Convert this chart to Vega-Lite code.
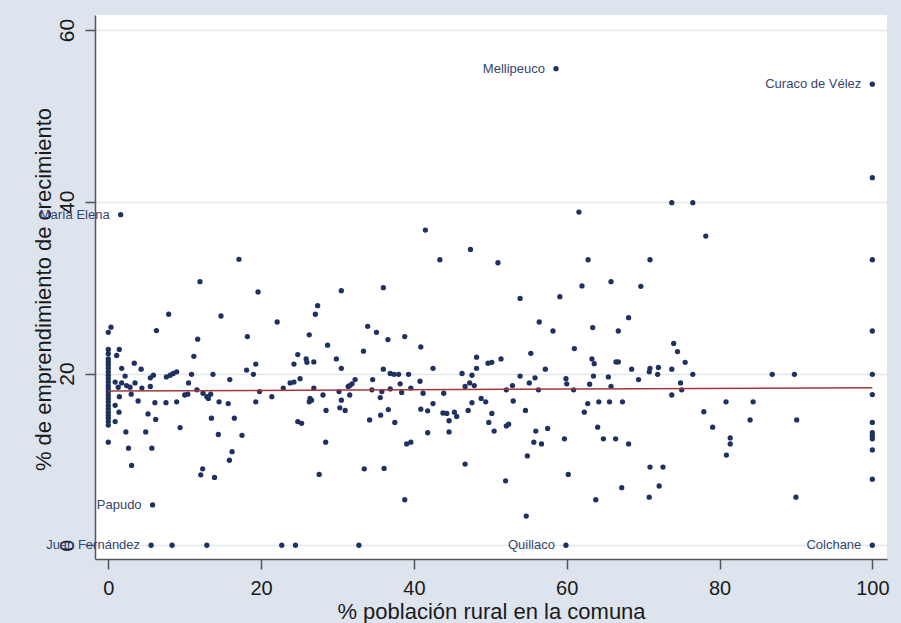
{
  "$schema": "https://vega.github.io/schema/vega-lite/v6.json",
  "width": 792,
  "height": 544,
  "autosize": {"type": "none"},
  "padding": {"left": 95, "top": 15, "right": 14, "bottom": 64},
  "background": "#dde4ee",
  "config": {"view": {"fill": "white", "stroke": null}, "font": "Liberation Sans"},
  "data": {"values": [
    {"x": 58.6, "y": 55.5, "label": "Mellipeuco"},
    {"x": 100, "y": 53.7, "label": "Curaco de Vélez"},
    {"x": 100, "y": 42.8},
    {"x": 1.62, "y": 38.5, "label": "María Elena"},
    {"x": 73.75, "y": 39.9}, {"x": 76.5, "y": 39.9}, {"x": 61.6, "y": 38.8}, {"x": 78.2, "y": 36.0},
    {"x": 41.5, "y": 36.7}, {"x": 47.4, "y": 34.45}, {"x": 43.4, "y": 33.25}, {"x": 17.1, "y": 33.3},
    {"x": 51.0, "y": 32.9}, {"x": 62.8, "y": 33.25}, {"x": 70.9, "y": 33.25}, {"x": 100, "y": 33.25},
    {"x": 12.0, "y": 30.7}, {"x": 19.6, "y": 29.5}, {"x": 36.0, "y": 30.0}, {"x": 30.5, "y": 29.65},
    {"x": 65.8, "y": 30.7}, {"x": 62.0, "y": 30.2}, {"x": 69.7, "y": 30.15}, {"x": 53.9, "y": 28.75},
    {"x": 59.1, "y": 28.95}, {"x": 27.4, "y": 27.9}, {"x": 27.1, "y": 26.9}, {"x": 7.9, "y": 26.9},
    {"x": 14.75, "y": 26.7}, {"x": 22.1, "y": 26.0}, {"x": 68.1, "y": 26.5}, {"x": 56.4, "y": 26.0},
    {"x": 33.95, "y": 25.5}, {"x": 35.1, "y": 24.8}, {"x": 26.3, "y": 24.5}, {"x": 58.2, "y": 24.95},
    {"x": 63.4, "y": 25.35}, {"x": 66.75, "y": 24.95}, {"x": 100, "y": 24.95}, {"x": 0.35, "y": 25.4},
    {"x": 0, "y": 24.8}, {"x": 6.3, "y": 25.0}, {"x": 18.2, "y": 24.3}, {"x": 11.7, "y": 24.0},
    {"x": 36.6, "y": 23.95}, {"x": 38.8, "y": 24.3}, {"x": 28.7, "y": 23.3}, {"x": 40.9, "y": 23.1},
    {"x": 74.0, "y": 23.5}, {"x": 33.4, "y": 22.6}, {"x": 61.0, "y": 22.9}, {"x": 74.5, "y": 22.55},
    {"x": 55.3, "y": 22.35}, {"x": 24.8, "y": 22.2}, {"x": 1.44, "y": 22.8}, {"x": 1.1, "y": 22.1},
    {"x": 11.2, "y": 22.0}, {"x": 48.2, "y": 21.9}, {"x": 25.9, "y": 21.7}, {"x": 26.0, "y": 21.3},
    {"x": 26.9, "y": 21.35}, {"x": 29.85, "y": 21.7}, {"x": 51.4, "y": 21.7}, {"x": 63.3, "y": 21.7},
    {"x": 63.6, "y": 21.15}, {"x": 66.45, "y": 21.35}, {"x": 66.75, "y": 21.35}, {"x": 75.5, "y": 21.3},
    {"x": 49.7, "y": 21.2}, {"x": 50.2, "y": 21.3}, {"x": 3.4, "y": 21.2}, {"x": 19.3, "y": 21.1},
    {"x": 24.3, "y": 21.1}, {"x": 1.75, "y": 20.6},
    {"x": 30.5, "y": 20.6}, {"x": 36.0, "y": 20.5}, {"x": 42.5, "y": 20.6}, {"x": 48.2, "y": 20.6},
    {"x": 57.2, "y": 20.5}, {"x": 68.5, "y": 20.5}, {"x": 70.9, "y": 20.6}, {"x": 72.0, "y": 20.7},
    {"x": 73.75, "y": 20.5},
    {"x": 2.2, "y": 19.7}, {"x": 5.9, "y": 19.8}, {"x": 5.5, "y": 19.5}, {"x": 7.6, "y": 19.6},
    {"x": 8.1, "y": 19.8}, {"x": 8.5, "y": 20.0}, {"x": 8.95, "y": 20.2}, {"x": 10.9, "y": 19.9},
    {"x": 13.7, "y": 19.9}, {"x": 15.9, "y": 19.3}, {"x": 19.0, "y": 19.9}, {"x": 18.1, "y": 20.4},
    {"x": 4.3, "y": 20.5},
    {"x": 0.9, "y": 19.0}, {"x": 1.75, "y": 18.9}, {"x": 2.4, "y": 18.6}, {"x": 2.85, "y": 18.4},
    {"x": 3.5, "y": 18.9}, {"x": 4.4, "y": 18.3}, {"x": 5.5, "y": 18.5}, {"x": 1.3, "y": 18.4},
    {"x": 10.5, "y": 18.9}, {"x": 10.0, "y": 17.5}, {"x": 10.4, "y": 17.6}, {"x": 11.6, "y": 18.1},
    {"x": 12.4, "y": 17.7}, {"x": 12.9, "y": 17.3}, {"x": 13.1, "y": 17.1}, {"x": 13.4, "y": 17.6},
    {"x": 3.0, "y": 17.6}, {"x": 3.9, "y": 16.8}, {"x": 6.1, "y": 16.6}, {"x": 7.55, "y": 16.6},
    {"x": 8.95, "y": 16.7}, {"x": 14.5, "y": 16.7}, {"x": 15.7, "y": 16.5}, {"x": 19.8, "y": 17.9},
    {"x": 19.3, "y": 16.7}, {"x": 21.4, "y": 17.3}, {"x": 22.9, "y": 18.3}, {"x": 23.8, "y": 18.9},
    {"x": 24.3, "y": 19.0}, {"x": 1.4, "y": 15.5}, {"x": 0.9, "y": 14.4}, {"x": 5.2, "y": 15.3},
    {"x": 6.2, "y": 14.65}, {"x": 13.5, "y": 14.8}, {"x": 16.5, "y": 14.8}, {"x": 2.3, "y": 13.2},
    {"x": 4.9, "y": 13.2}, {"x": 9.4, "y": 13.7}, {"x": 14.4, "y": 12.9}, {"x": 17.5, "y": 12.8},
    {"x": 2.65, "y": 11.3}, {"x": 5.7, "y": 11.3}, {"x": 16.2, "y": 10.9}, {"x": 15.85, "y": 9.9},
    {"x": 3.05, "y": 9.3}, {"x": 12.35, "y": 8.9}, {"x": 12.1, "y": 8.2}, {"x": 13.9, "y": 7.9},
    {"x": 5.8, "y": 4.7, "label": "Papudo"},
    {"x": 5.6, "y": 0, "label": "Juan Fernández"},
    {"x": 8.35, "y": 0}, {"x": 12.9, "y": 0}, {"x": 22.7, "y": 0}, {"x": 24.5, "y": 0}, {"x": 32.8, "y": 0},
    {"x": 1.45, "y": 17.3}, {"x": 0.9, "y": 16.3},
    {"x": 25.1, "y": 19.4}, {"x": 26.9, "y": 18.3}, {"x": 28.1, "y": 17.5}, {"x": 26.4, "y": 17.1},
    {"x": 26.6, "y": 16.9}, {"x": 26.3, "y": 16.7}, {"x": 28.5, "y": 15.7}, {"x": 24.8, "y": 14.4},
    {"x": 25.3, "y": 14.2}, {"x": 28.45, "y": 12.0}, {"x": 27.6, "y": 8.25}, {"x": 30.2, "y": 17.9},
    {"x": 31.6, "y": 18.6}, {"x": 31.4, "y": 18.5}, {"x": 31.9, "y": 18.8}, {"x": 32.3, "y": 19.3},
    {"x": 31.6, "y": 17.5}, {"x": 30.5, "y": 16.9}, {"x": 30.3, "y": 16.0}, {"x": 31.0, "y": 15.7},
    {"x": 34.6, "y": 19.3}, {"x": 34.5, "y": 18.1}, {"x": 35.8, "y": 17.9}, {"x": 35.6, "y": 17.2},
    {"x": 36.65, "y": 15.8}, {"x": 35.65, "y": 15.15}, {"x": 34.2, "y": 14.6}, {"x": 37.5, "y": 14.3},
    {"x": 36.9, "y": 18.2}, {"x": 36.9, "y": 20.0}, {"x": 37.4, "y": 19.9}, {"x": 38.0, "y": 19.9},
    {"x": 39.3, "y": 19.9}, {"x": 38.2, "y": 18.8}, {"x": 38.4, "y": 17.8}, {"x": 39.6, "y": 18.3},
    {"x": 40.8, "y": 19.1}, {"x": 41.2, "y": 17.7}, {"x": 42.5, "y": 16.5}, {"x": 40.9, "y": 15.85},
    {"x": 41.8, "y": 15.65}, {"x": 41.8, "y": 13.1}, {"x": 39.05, "y": 11.8}, {"x": 39.6, "y": 12.0},
    {"x": 33.5, "y": 8.9}, {"x": 36.1, "y": 8.95}, {"x": 38.8, "y": 5.3}, {"x": 43.9, "y": 17.7},
    {"x": 43.8, "y": 15.4}, {"x": 44.3, "y": 15.35}, {"x": 44.6, "y": 14.5}, {"x": 44.6, "y": 13.2},
    {"x": 45.3, "y": 15.5}, {"x": 45.6, "y": 15.0}, {"x": 47.1, "y": 15.7}, {"x": 46.7, "y": 9.45},
    {"x": 46.3, "y": 20.0}, {"x": 47.6, "y": 19.8}, {"x": 46.7, "y": 18.5}, {"x": 47.3, "y": 18.9},
    {"x": 47.9, "y": 18.6}, {"x": 47.6, "y": 16.6}, {"x": 48.8, "y": 17.1}, {"x": 49.4, "y": 16.7},
    {"x": 50.2, "y": 15.35}, {"x": 49.8, "y": 14.3}, {"x": 50.5, "y": 13.3},
    {"x": 53.9, "y": 19.7}, {"x": 55.85, "y": 19.5}, {"x": 55.1, "y": 18.9}, {"x": 59.9, "y": 19.4},
    {"x": 60.0, "y": 18.8}, {"x": 63.5, "y": 19.7}, {"x": 63.0, "y": 18.75}, {"x": 65.45, "y": 19.6},
    {"x": 65.8, "y": 18.5}, {"x": 69.4, "y": 19.3}, {"x": 70.8, "y": 20.2}, {"x": 71.9, "y": 19.9},
    {"x": 74.9, "y": 18.9}, {"x": 75.05, "y": 18.1}, {"x": 73.75, "y": 17.5}, {"x": 52.1, "y": 18.1},
    {"x": 52.9, "y": 18.6}, {"x": 56.3, "y": 18.1}, {"x": 60.9, "y": 18.1}, {"x": 53.0, "y": 16.8},
    {"x": 54.6, "y": 15.7}, {"x": 62.75, "y": 16.5}, {"x": 62.3, "y": 15.5}, {"x": 64.2, "y": 16.7},
    {"x": 65.6, "y": 16.7}, {"x": 67.3, "y": 16.7}, {"x": 52.1, "y": 13.9}, {"x": 52.4, "y": 14.1},
    {"x": 55.95, "y": 13.3}, {"x": 57.5, "y": 13.6}, {"x": 55.7, "y": 12.0}, {"x": 56.7, "y": 11.8},
    {"x": 59.7, "y": 12.4}, {"x": 64.05, "y": 13.75}, {"x": 64.8, "y": 12.4}, {"x": 66.4, "y": 12.4},
    {"x": 68.1, "y": 11.8}, {"x": 54.85, "y": 10.4}, {"x": 52.0, "y": 7.5}, {"x": 60.2, "y": 8.25},
    {"x": 67.2, "y": 6.7}, {"x": 63.8, "y": 5.3}, {"x": 70.9, "y": 9.1}, {"x": 72.6, "y": 9.1},
    {"x": 72.1, "y": 6.9}, {"x": 70.8, "y": 5.6}, {"x": 54.7, "y": 3.4},
    {"x": 59.9, "y": 0, "label": "Quillaco"},
    {"x": 76.5, "y": 19.9}, {"x": 86.9, "y": 19.9}, {"x": 89.8, "y": 19.9}, {"x": 100, "y": 19.9},
    {"x": 100, "y": 17.55}, {"x": 80.85, "y": 16.7}, {"x": 84.4, "y": 16.7}, {"x": 77.95, "y": 15.55},
    {"x": 79.1, "y": 13.75}, {"x": 84.0, "y": 14.6}, {"x": 90.1, "y": 14.6}, {"x": 81.4, "y": 12.5},
    {"x": 81.4, "y": 11.8}, {"x": 80.9, "y": 10.5}, {"x": 90.0, "y": 5.6}, {"x": 100, "y": 14.3},
    {"x": 100, "y": 13.1}, {"x": 100, "y": 12.75}, {"x": 100, "y": 12.4}, {"x": 100, "y": 11.1},
    {"x": 100, "y": 7.7},
    {"x": 100, "y": 0, "label": "Colchane"},
    {"x": 0, "y": 22.8}, {"x": 0, "y": 22.3}, {"x": 0, "y": 21.7}, {"x": 0, "y": 21.35},
    {"x": 0, "y": 21.0}, {"x": 0, "y": 20.6}, {"x": 0, "y": 20.2}, {"x": 0, "y": 19.8},
    {"x": 0, "y": 19.4}, {"x": 0, "y": 19.0}, {"x": 0, "y": 18.6}, {"x": 0, "y": 18.25},
    {"x": 0, "y": 17.9}, {"x": 0, "y": 17.5}, {"x": 0, "y": 17.1}, {"x": 0, "y": 16.7},
    {"x": 0, "y": 16.3}, {"x": 0, "y": 15.9}, {"x": 0, "y": 15.5}, {"x": 0, "y": 15.15},
    {"x": 0, "y": 14.8}, {"x": 0, "y": 14.4}, {"x": 0, "y": 14.0}, {"x": 0, "y": 12.0}
  ]},
  "encoding": {
    "x": {
      "field": "x", "type": "quantitative",
      "scale": {"domain": [-1.74, 101.92], "nice": false, "zero": false},
      "axis": {
        "values": [0, 20, 40, 60, 80, 100],
        "title": "% población rural en la comuna",
        "titleFontSize": 22, "titleFontWeight": "normal", "titleColor": "#1a1a1a",
        "titleBaseline": "alphabetic", "titleY": 59,
        "labelFontSize": 20, "labelColor": "#1a1a1a", "labelBaseline": "alphabetic",
        "labelPadding": 25, "labelFlush": false, "labelOverlap": false,
        "tickSize": 10, "tickColor": "#555555", "tickWidth": 1.5,
        "domainColor": "#555555", "domainWidth": 1.5, "grid": false
      }
    },
    "y": {
      "field": "y", "type": "quantitative",
      "scale": {"domain": [-1.6, 61.75], "nice": false, "zero": false},
      "axis": {
        "values": [0, 20, 40, 60],
        "title": "% de emprendimiento de crecimiento",
        "titleFontSize": 22, "titleFontWeight": "normal", "titleColor": "#1a1a1a",
        "titleAngle": -90, "titleBaseline": "alphabetic", "titleX": -45, "titleY": 274,
        "labelFontSize": 21, "labelColor": "#1a1a1a", "labelAngle": -90,
        "labelAlign": "center", "labelBaseline": "alphabetic", "labelPadding": 12,
        "labelFlush": false, "labelOverlap": false,
        "tickSize": 10, "tickColor": "#555555", "tickWidth": 1.5,
        "domainColor": "#555555", "domainWidth": 1.5,
        "grid": true, "gridColor": "#e3e7ec", "gridWidth": 1.5
      }
    }
  },
  "layer": [
    {
      "mark": {"type": "point", "filled": true, "size": 28, "color": "#1f3160", "opacity": 1}
    },
    {
      "transform": [{"filter": "isValid(datum.label)"}],
      "mark": {"type": "text", "align": "right", "baseline": "middle", "dx": -11, "fontSize": 13, "color": "#34456e"},
      "encoding": {"text": {"field": "label", "type": "nominal"}}
    },
    {
      "data": {"values": [{"x": 0, "y": 17.95}, {"x": 100, "y": 18.35}]},
      "mark": {"type": "line", "color": "#a3373a", "strokeWidth": 1.5},
      "encoding": {}
    }
  ]
}
